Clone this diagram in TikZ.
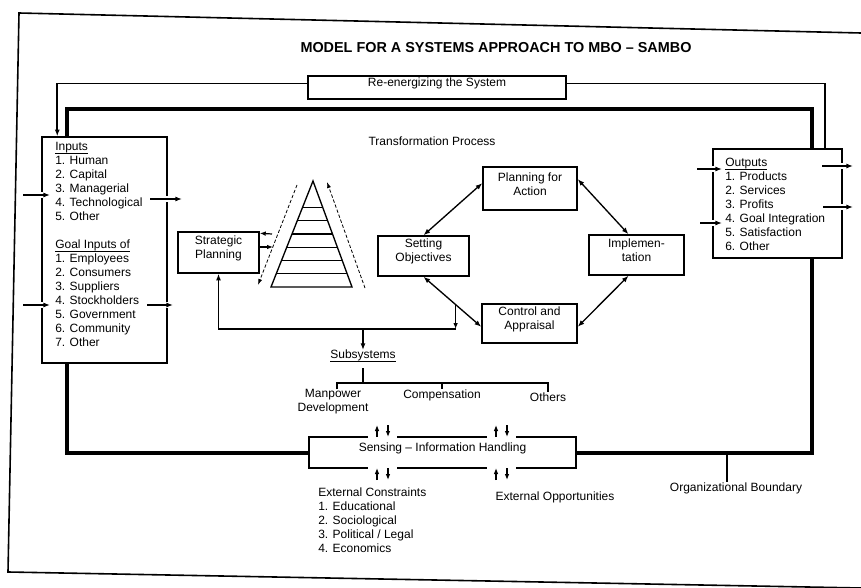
\documentclass[tikz,border=0pt]{standalone}
\usepackage{fontspec}
\setmainfont{Liberation Sans}
\usetikzlibrary{arrows.meta,calc,fit}
\newcommand{\myul}[1]{\setbox0\hbox{#1}\rlap{\rule[-2.1pt]{\wd0}{0.6pt}}\box0}
\begin{document}
\begin{tikzpicture}[x=0.75pt,y=-0.75pt,
  txt/.style={font=\fontsize{9}{10.5}\selectfont, inner sep=0pt},
  box/.style={draw, line width=1.1pt, font=\fontsize{9}{10.5}\selectfont, align=center, inner sep=0pt},
  arr/.style={line width=1pt, -{Latex[length=5pt,width=3.8pt]}},
  sarr/.style={line width=0.9pt, -{Latex[length=4.5pt,width=3.5pt]}},
  darr/.style={line width=1pt, {Latex[length=5pt,width=3.8pt]}-{Latex[length=5pt,width=3.8pt]}},
  boldline/.style={line width=3pt},
  thinloop/.style={line width=1.4pt},
  dasharr/.style={line width=0.6pt, dash pattern=on 2.5pt off 1.5pt, -{Latex[length=4.5pt,width=3pt]}},
  gap/.style={preaction={draw=white, line width=5pt, -}},
]
\useasboundingbox (0,0) rectangle (861,588);
% page frame
\draw[line width=1.2pt] (861,33) -- (19,13) -- (8,572) -- (861,588);

% title
\node[font=\fontsize{10.8}{12}\bfseries\selectfont, inner sep=0pt] (title) at (496,48) {MODEL FOR A SYSTEMS APPROACH TO MBO -- SAMBO};

% boxes
\node[box, fit={(42,137) (167,363)}] (inbox) {};
\node[txt, anchor=north west, align=left] (intext) at (55,142) {\myul{Inputs}\\1. Human\\2. Capital\\3. Managerial\\4. Technological\\5. Other\\[10.5pt]\myul{Goal Inputs of}\\1. Employees\\2. Consumers\\3. Suppliers\\4. Stockholders\\5. Government\\6. Community\\7. Other};

\node[box, fit={(713,149) (842,258)}] (outbox) {};
\node[txt, anchor=north west, align=left] (outtext) at (725,158) {\myul{Outputs}\\1. Products\\2. Services\\3. Profits\\4. Goal Integration\\5. Satisfaction\\6. Other};

\node[box, fit={(308,76) (566,99)}] (re) {Re-energizing the System};
\node[box, fit={(178,232) (259,273)}] (sp) {Strategic\\Planning};
\node[box, fit={(483,167) (577,210)}] (pfa) {Planning for\\Action};
\node[box, fit={(378,236) (469,276)}] (so) {Setting\\Objectives};
\node[box, fit={(589,235) (684,275)}] (impl) {Implemen-\\tation};
\node[box, fit={(482,304) (577,343)}] (ctrl) {Control and\\Appraisal};
\node[box, fit={(309,437) (576,468)}] (sens) {Sensing -- Information Handling};

% labels
\node[txt] (tp) at (432,141) {Transformation Process};
\node[txt] (sub) at (363,356) {\myul{Subsystems}};
\node[txt, align=center] (manp) at (333,402) {Manpower\\Development};
\node[txt] (comp) at (442,395) {Compensation};
\node[txt] (oth) at (548,397) {Others};
\node[txt] (extopp) at (555,497) {External Opportunities};
\node[txt, anchor=north west, align=left] (extcon) at (318,488) {External Constraints\\1. Educational\\2. Sociological\\3. Political / Legal\\4. Economics};
\node[txt] (orgb) at (736,488) {Organizational Boundary};

% re-energizing loop
\draw[thinloop] ($(outbox.north west)+(113,0)$) |- ($(re.east)+(0,-4)$);
\draw[thinloop, -{Latex[length=5pt,width=3.8pt]}] ($(re.west)+(0,-4)$) -| ($(inbox.north west)+(16,0)$);

% organizational boundary (bold)
\draw[boldline] ($(inbox.north west)+(26,0)$) -- ++(0,-27) -| ($(outbox.north west)+(100,0)$);
\draw[boldline] ($(outbox.south west)+(100,0)$) |- (sens.east);
\draw[boldline] (sens.west) -| ($(inbox.south west)+(26,0)$);
\draw[line width=1pt] (727,455) -- (orgb.north -| 727,0);

% inputs / outputs arrows
\draw[arr, gap] (23,195) -- (50,195);
\draw[arr, gap] (23,305) -- (50,305);
\draw[arr, gap] (150,199) -- (182,199);
\draw[arr, gap] (147,305) -- (173,305);
\draw[arr, gap] (697,169) -- (722,169);
\draw[arr, gap] (700,223) -- (722,223);
\draw[arr, gap] (822,166) -- (853,166);
\draw[arr, gap] (823,207) -- (853,207);

% pyramid
\coordinate (apex) at (313,181);
\coordinate (bl) at (271,287);
\coordinate (br) at (352,287);
\draw[line width=1pt] (bl) -- (apex) -- (br) -- cycle;
\foreach \t in {0.25,0.375,0.5,0.625,0.75,0.875}
  \draw[line width=1pt] ($(apex)!\t!(bl)$) -- ($(apex)!\t!(br)$);
\draw[dasharr] (297,185) -- (258,285);
\draw[dasharr] (365,288) -- (327,182);

% strategic planning arrows
\draw[sarr] (272,234) -- ($(sp.north east)+(0,2)$);
\draw[sarr] ($(sp.east)+(0,-5.5)$) -- (273,247);

% cycle
\draw[darr] (so.north) -- ([yshift=4pt]pfa.west);
\draw[darr] ([yshift=7pt]pfa.east) -- ([xshift=-6pt]impl.north);
\draw[darr] ([xshift=-6pt]impl.south) -- ([yshift=-2.5pt]ctrl.east);
\draw[darr] (so.south) -- ([yshift=-2.5pt]ctrl.west);

% feedback to strategic planning
\coordinate (fb) at ($(so.south)!0.556!([yshift=-2.5pt]ctrl.west)$);
\coordinate (fbc) at (fb |- 0,329);
\draw[sarr] (fb) -- (fbc);
\draw[arr] (fbc) -| (sp.south);
\draw[arr] (363,329) -- (sub.north);

% subsystems tree
\draw[line width=0.9pt] ($(sub.south)+(0,6)$) -- (363,383);
\draw[line width=0.9pt] (manp.north -| 337,0) -- (337,383) -- (548,383) -- (oth.north);
\draw[line width=0.9pt] (442,383) -- (comp.north);

% sensing arrows with gaps
\foreach \x in {377,496}{
  \fill[white] (\x-9,434) rectangle (\x+20,440);
  \fill[white] (\x-9,465) rectangle (\x+20,471);
  \draw[sarr] (\x,437) -- (\x,425);
  \draw[sarr] (\x+11,425) -- (\x+11,437);
  \draw[sarr] (\x,480) -- (\x,468);
  \draw[sarr] (\x+11,468) -- (\x+11,480);
}
\end{tikzpicture}
\end{document}
